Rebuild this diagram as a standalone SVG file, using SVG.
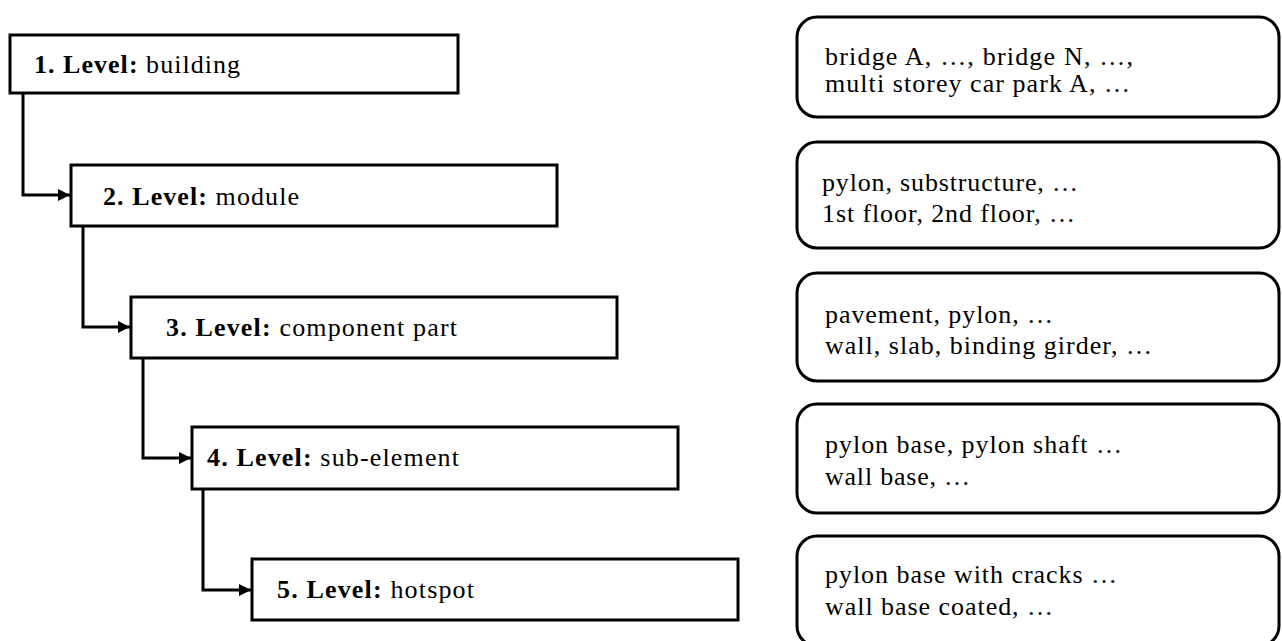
<svg xmlns="http://www.w3.org/2000/svg" width="1282" height="641" viewBox="0 0 1282 641">
<style>
.box{fill:#fff;stroke:#000;stroke-width:3}
.rbox{fill:#fff;stroke:#000;stroke-width:3}
.conn{fill:none;stroke:#000;stroke-width:3}
text{font-family:"Liberation Serif","Times New Roman",serif;font-size:26px;fill:#000}
.b{font-weight:bold}
</style>
<defs>
<marker id="arr" viewBox="0 0 10 10" refX="10" refY="5" markerUnits="userSpaceOnUse" markerWidth="13" markerHeight="12" orient="auto">
<path d="M0,0 L10,5 L0,10 z" fill="#000"/>
</marker>
</defs>
<rect width="1282" height="641" fill="#fff"/>
<g id="connectors">
<path class="conn" d="M23 93 V195 H70" marker-end="url(#arr)"/>
<path class="conn" d="M83 226 V327 H130" marker-end="url(#arr)"/>
<path class="conn" d="M143 358 V458 H191" marker-end="url(#arr)"/>
<path class="conn" d="M203 489 V590 H251" marker-end="url(#arr)"/>
</g>
<g id="level1">
<rect class="box" x="10" y="35" width="448" height="58"/>
<text x="34" y="73" textLength="206" lengthAdjust="spacing"><tspan class="b">1. Level:</tspan> building</text>
</g>
<g id="level2">
<rect class="box" x="71" y="165" width="486" height="61"/>
<text x="103" y="205" textLength="196" lengthAdjust="spacing"><tspan class="b">2. Level:</tspan> module</text>
</g>
<g id="level3">
<rect class="box" x="131" y="297" width="486" height="61"/>
<text x="166" y="336" textLength="291" lengthAdjust="spacing"><tspan class="b">3. Level:</tspan> component part</text>
</g>
<g id="level4">
<rect class="box" x="192" y="427" width="486" height="62"/>
<text x="207" y="466" textLength="252" lengthAdjust="spacing"><tspan class="b">4. Level:</tspan> sub-element</text>
</g>
<g id="level5">
<rect class="box" x="252" y="559" width="486" height="61"/>
<text x="277" y="598" textLength="197" lengthAdjust="spacing"><tspan class="b">5. Level:</tspan> hotspot</text>
</g>
<g id="example1">
<rect class="rbox" x="797" y="17" width="482" height="100" rx="20" ry="20"/>
<text x="825" y="65" textLength="308" lengthAdjust="spacing">bridge A, …, bridge N, …,</text>
<text x="825" y="92" textLength="305" lengthAdjust="spacing">multi storey car park A, …</text>
</g>
<g id="example2">
<rect class="rbox" x="797" y="142" width="482" height="106" rx="20" ry="20"/>
<text x="822" y="191" textLength="256" lengthAdjust="spacing">pylon, substructure, …</text>
<text x="822" y="222" textLength="253" lengthAdjust="spacing">1st floor, 2nd floor, …</text>
</g>
<g id="example3">
<rect class="rbox" x="797" y="273" width="482" height="108" rx="20" ry="20"/>
<text x="825" y="323" textLength="228" lengthAdjust="spacing">pavement, pylon, …</text>
<text x="825" y="354" textLength="327" lengthAdjust="spacing">wall, slab, binding girder, …</text>
</g>
<g id="example4">
<rect class="rbox" x="797" y="404" width="482" height="109" rx="20" ry="20"/>
<text x="825" y="453" textLength="297" lengthAdjust="spacing">pylon base, pylon shaft …</text>
<text x="825" y="485" textLength="145" lengthAdjust="spacing">wall base, …</text>
</g>
<g id="example5">
<rect class="rbox" x="797" y="536" width="482" height="110" rx="20" ry="20"/>
<text x="825" y="583" textLength="292" lengthAdjust="spacing">pylon base with cracks …</text>
<text x="825" y="615" textLength="228" lengthAdjust="spacing">wall base coated, …</text>
</g>
</svg>
